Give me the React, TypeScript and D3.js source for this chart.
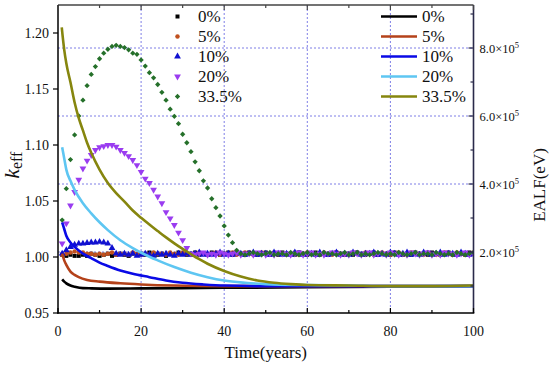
import React from 'react';
import * as d3 from 'd3';

// time axis for the scatter series (one point per year)
const years = d3.range(1, 101);

// k_eff scatter series
const sq0 = [
  1.002, 1.001, 1.002, 1.001, 1.001, 1.002, 1.001, 1.003, 1.002, 1.001,
  1.002, 1.003, 1.001, 1.002, 1.003, 1.002, 1.001, 1.003, 1.002, 1.003,
  1.002, 1.004, 1.003, 1.002, 1.003, 1.001, 1.003, 1.002, 1.004, 1.003,
  1.002, 1.003, 1.004, 1.002, 1.003, 1.002, 1.004, 1.003, 1.002, 1.003,
  1.004, 1.002, 1.003, 1.003, 1.002, 1.004, 1.003, 1.002, 1.003, 1.004,
  1.002, 1.003, 1.002, 1.004, 1.003, 1.003, 1.002, 1.004, 1.003, 1.002,
  1.003, 1.004, 1.002, 1.003, 1.002, 1.003, 1.004, 1.003, 1.002, 1.003,
  1.002, 1.004, 1.003, 1.002, 1.003, 1.004, 1.002, 1.003, 1.003, 1.002,
  1.004, 1.003, 1.002, 1.003, 1.002, 1.004, 1.003, 1.003, 1.002, 1.004,
  1.003, 1.002, 1.003, 1.004, 1.002, 1.003, 1.003, 1.002, 1.004, 1.003,
];
const sq5 = [
  1.002, 1.003, 1.004, 1.005, 1.004, 1.004, 1.003, 1.003, 1.002, 1.003,
  1.002, 1.003, 1.004, 1.002, 1.003, 1.003, 1.002, 1.004, 1.003, 1.002,
  1.003, 1.002, 1.004, 1.003, 1.003, 1.002, 1.004, 1.003, 1.002, 1.004,
  1.003, 1.002, 1.003, 1.004, 1.003, 1.002, 1.003, 1.004, 1.002, 1.003,
  1.003, 1.004, 1.002, 1.003, 1.004, 1.003, 1.002, 1.003, 1.004, 1.003,
  1.002, 1.004, 1.003, 1.003, 1.002, 1.003, 1.004, 1.002, 1.003, 1.004,
  1.003, 1.002, 1.003, 1.004, 1.003, 1.002, 1.004, 1.003, 1.002, 1.003,
  1.004, 1.003, 1.002, 1.004, 1.003, 1.002, 1.003, 1.004, 1.003, 1.002,
  1.003, 1.004, 1.003, 1.002, 1.004, 1.003, 1.003, 1.002, 1.004, 1.003,
  1.002, 1.003, 1.004, 1.003, 1.002, 1.004, 1.003, 1.002, 1.003, 1.004,
];
const sq10 = [
  1.003, 1.006, 1.009, 1.011, 1.012, 1.012, 1.0125, 1.013, 1.013, 1.0135,
  1.013, 1.012, 1.008, 1.003, 1.002, 1.003, 1.002, 1.003, 1.001, 1.002,
  1.003, 1.002, 1.001, 1.003, 1.002, 1.003, 1.002, 1.001, 1.003, 1.002,
  1.003, 1.002, 1.003, 1.004, 1.002, 1.003, 1.002, 1.003, 1.004, 1.002,
  1.003, 1.002, 1.004, 1.003, 1.002, 1.003, 1.004, 1.002, 1.003, 1.003,
  1.002, 1.004, 1.003, 1.002, 1.003, 1.002, 1.004, 1.003, 1.002, 1.003,
  1.003, 1.002, 1.004, 1.003, 1.002, 1.003, 1.004, 1.002, 1.003, 1.002,
  1.004, 1.003, 1.002, 1.003, 1.003, 1.004, 1.002, 1.003, 1.002, 1.004,
  1.003, 1.002, 1.003, 1.004, 1.002, 1.003, 1.002, 1.004, 1.003, 1.002,
  1.003, 1.004, 1.002, 1.003, 1.003, 1.002, 1.004, 1.003, 1.002, 1.003,
];
const sq20 = [
  1.012, 1.030, 1.046, 1.058, 1.069, 1.079, 1.086, 1.091, 1.0955, 1.098,
  1.099, 1.100, 1.100, 1.0985, 1.0955, 1.093, 1.090, 1.0866, 1.082, 1.076,
  1.070, 1.066, 1.060, 1.054, 1.048, 1.040, 1.0345, 1.0286, 1.0217, 1.015,
  1.008, 1.003, 1.002, 1.003, 1.004, 1.002, 1.003, 1.002, 1.004, 1.003,
  1.002, 1.003, 1.004, 1.002, 1.003, 1.003, 1.002, 1.004, 1.003, 1.002,
  1.003, 1.002, 1.004, 1.003, 1.003, 1.002, 1.003, 1.004, 1.002, 1.003,
  1.004, 1.002, 1.003, 1.002, 1.003, 1.004, 1.003, 1.002, 1.003, 1.002,
  1.004, 1.003, 1.002, 1.003, 1.004, 1.002, 1.003, 1.003, 1.002, 1.004,
  1.003, 1.002, 1.003, 1.002, 1.004, 1.003, 1.002, 1.003, 1.004, 1.002,
  1.003, 1.002, 1.004, 1.003, 1.003, 1.002, 1.003, 1.004, 1.002, 1.003,
];
const sq335 = [
  1.033, 1.061, 1.087, 1.109, 1.126, 1.140, 1.153, 1.163, 1.170, 1.177,
  1.182, 1.1855, 1.188, 1.189, 1.188, 1.187, 1.185, 1.182, 1.181, 1.176,
  1.1705, 1.1646, 1.160, 1.154, 1.147, 1.140, 1.132, 1.1256, 1.119, 1.1096,
  1.102, 1.094, 1.085, 1.077, 1.068, 1.0616, 1.052, 1.044, 1.0366, 1.0277,
  1.0196, 1.0128, 1.006, 1.003, 1.002, 1.003, 1.004, 1.003, 1.002, 1.003,
  1.004, 1.002, 1.003, 1.003, 1.002, 1.004, 1.003, 1.002, 1.003, 1.004,
  1.002, 1.003, 1.002, 1.004, 1.003, 1.003, 1.002, 1.003, 1.004, 1.002,
  1.003, 1.004, 1.002, 1.003, 1.002, 1.003, 1.004, 1.003, 1.002, 1.003,
  1.002, 1.004, 1.003, 1.002, 1.003, 1.004, 1.002, 1.003, 1.003, 1.002,
  1.004, 1.003, 1.002, 1.003, 1.002, 1.004, 1.003, 1.002, 1.003, 1.004,
];

// line series: [time, value]
const ln0: [number, number][] = [
  [1, 0.980], [1.5, 0.978], [2, 0.9765], [3, 0.9745], [4, 0.9735], [6, 0.9722],
  [8, 0.972], [12, 0.9718], [20, 0.972], [40, 0.9725], [60, 0.973], [80, 0.9735], [100, 0.974],
];
const ln5: [number, number][] = [
  [1, 1.003], [1.5, 0.997], [2, 0.993], [3, 0.987], [4, 0.984], [5, 0.982], [7, 0.9795],
  [10, 0.978], [15, 0.9765], [20, 0.9755], [28, 0.9745], [40, 0.974], [60, 0.974], [80, 0.974], [100, 0.974],
];
const ln10: [number, number][] = [
  [1, 1.031], [1.5, 1.025], [2, 1.019], [3, 1.013], [4, 1.009], [6, 1.003], [8, 0.999],
  [10, 0.995], [12, 0.992], [15, 0.988], [18, 0.985], [22, 0.982], [26, 0.979], [30, 0.977],
  [35, 0.9755], [40, 0.9745], [50, 0.974], [60, 0.974], [80, 0.974], [100, 0.974],
];
const ln20: [number, number][] = [
  [1, 1.098], [1.5, 1.088], [2, 1.078], [3, 1.068], [4, 1.060], [6, 1.048], [8, 1.039],
  [10, 1.031], [12, 1.024], [15, 1.015], [18, 1.008], [21, 1.002], [24, 0.997], [28, 0.991],
  [32, 0.986], [36, 0.982], [40, 0.979], [45, 0.977], [50, 0.9758], [60, 0.975], [70, 0.9745],
  [80, 0.974], [100, 0.974],
];
const ln335: [number, number][] = [
  [0.9, 1.205], [1.5, 1.185], [2, 1.173], [3, 1.156], [4, 1.138], [5, 1.124], [6, 1.113],
  [7, 1.102], [8, 1.093], [10, 1.078], [12, 1.066], [14, 1.057], [16, 1.0495], [18, 1.0415],
  [20, 1.035], [22, 1.029], [24, 1.0232], [26, 1.0175], [28, 1.0122], [30, 1.0072], [32, 1.0025],
  [34, 0.998], [36, 0.994], [40, 0.9875], [44, 0.9825], [48, 0.979], [52, 0.977], [56, 0.9758],
  [60, 0.975], [70, 0.9745], [80, 0.974], [90, 0.974], [100, 0.9745],
];

const labels = ['0%', '5%', '10%', '20%', '33.5%'];
const xTicks = [0, 20, 40, 60, 80, 100];
const xMinor = [10, 30, 50, 70, 90];
const yTicks = [0.95, 1.0, 1.05, 1.1, 1.15, 1.2];
const rTicks = [2e5, 4e5, 6e5, 8e5];
const rMinor = [1e5, 3e5, 5e5, 7e5, 9e5];

const scatterColors = ['#000000', '#c0501e', '#1010d0', '#9a3cf0', '#25702a'];
const lineColors = ['#000000', '#b4421a', '#0a0ae6', '#5ec6f2', '#86860e'];

const W = 550;
const H = 365;
const L = 58;
const R = 473.5;
const T = 5;
const B = 313;
const FONT = "'Times New Roman', 'Liberation Serif', 'Nimbus Roman', 'DejaVu Serif', serif";

export default function App() {
  const x = d3.scaleLinear().domain([0, 100]).range([L, R]);
  const y = d3.scaleLinear().domain([0.95, 1.225]).range([B, T]);
  const yR = d3.scaleLinear().domain([20600, 926500]).range([B, T]);

  const line = d3.line<[number, number]>()
    .x(d => x(d[0]))
    .y(d => y(d[1]))
    .curve(d3.curveMonotoneX);

  const scatters = [sq0, sq5, sq10, sq20, sq335];
  const lines = [ln0, ln5, ln10, ln20, ln335];

  const sqPath = d3.symbol().type(d3.symbolSquare).size(16)()!;
  const circPath = d3.symbol().type(d3.symbolCircle).size(16)()!;
  const triPath = d3.symbol().type(d3.symbolTriangle).size(20)()!;
  const diaPath = d3.symbol().type(d3.symbolSquare).size(14)()!;

  const marker = (i: number, cx: number, cy: number, key: string | number) => {
    const c = scatterColors[i];
    if (i === 0) return <path key={key} d={sqPath} transform={`translate(${cx},${cy})`} fill={c} />;
    if (i === 1) return <path key={key} d={circPath} transform={`translate(${cx},${cy})`} fill={c} />;
    if (i === 2) return <path key={key} d={triPath} transform={`translate(${cx},${cy})`} fill={c} />;
    if (i === 3) return <path key={key} d={triPath} transform={`translate(${cx},${cy}) rotate(180)`} fill={c} />;
    return <path key={key} d={diaPath} transform={`translate(${cx},${cy}) rotate(45)`} fill={c} />;
  };

  const grid = '#7f7fe6';
  const legendRows = labels.map((_, i) => 16.5 + i * 20);
  const txt = { fontFamily: FONT };

  return (
    <svg width={W} height={H} style={{ position: 'absolute', left: 0, top: 0, background: '#fff', fontFamily: FONT }}>
      <defs>
        <clipPath id="plot">
          <rect x={L} y={T} width={R - L} height={B - T} />
        </clipPath>
      </defs>

      {/* grid lines */}
      {[20, 40, 60, 80].map(v => (
        <line key={'gx' + v} x1={x(v)} x2={x(v)} y1={T} y2={B} stroke={grid} strokeWidth={1} strokeDasharray="2,2" />
      ))}
      {rTicks.map(v => (
        <line key={'gy' + v} x1={L} x2={R} y1={yR(v)} y2={yR(v)} stroke={grid} strokeWidth={1} strokeDasharray="2,2" />
      ))}

      <g clipPath="url(#plot)">
        {scatters.map((s, i) => (
          <g key={'s' + i}>
            {s.map((v, j) => marker(i, x(years[j]), y(v), j))}
          </g>
        ))}
        {lines.map((l, i) => (
          <path key={'l' + i} d={line(l)!} fill="none" stroke={lineColors[i]} strokeWidth={2.6} />
        ))}
      </g>

      {/* frame */}
      <line x1={L} x2={R} y1={T} y2={T} stroke="#444" strokeWidth={1.5} />
      <line x1={R} x2={R} y1={T} y2={B} stroke="#2a2a4a" strokeWidth={1.6} />
      <line x1={L} x2={L} y1={T} y2={B + 0.75} stroke="#000" strokeWidth={1.5} />
      <line x1={L - 0.75} x2={R + 0.8} y1={B} y2={B} stroke="#000" strokeWidth={1.5} />

      {/* bottom & top ticks */}
      {xTicks.map(v => (
        <g key={'xt' + v}>
          <line x1={x(v)} x2={x(v)} y1={B} y2={B - 5} stroke="#000" strokeWidth={1.2} />
          <line x1={x(v)} x2={x(v)} y1={T} y2={T + 5} stroke="#444" strokeWidth={1.2} />
          <text style={txt} x={x(v)} y={336} fontSize={14} textAnchor="middle" fill="#111">{v}</text>
        </g>
      ))}
      {xMinor.map(v => (
        <g key={'xm' + v}>
          <line x1={x(v)} x2={x(v)} y1={B} y2={B - 3} stroke="#000" strokeWidth={1.2} />
          <line x1={x(v)} x2={x(v)} y1={T} y2={T + 3} stroke="#444" strokeWidth={1.2} />
        </g>
      ))}

      {/* left ticks */}
      {yTicks.map(v => (
        <g key={'yt' + v}>
          <line x1={L - 5} x2={L} y1={y(v)} y2={y(v)} stroke="#000" strokeWidth={1.2} />
          <text style={txt} x={L - 9} y={y(v) + 4.5} fontSize={14} textAnchor="end" fill="#111">{v.toFixed(2)}</text>
        </g>
      ))}

      {/* right ticks */}
      {rTicks.map(v => (
        <g key={'rt' + v}>
          <line x1={R - 5} x2={R} y1={yR(v)} y2={yR(v)} stroke="#2a2a4a" strokeWidth={1.2} />
          <text style={txt} x={R + 6} y={yR(v) + 4.5} fontSize={12.5} fill="#111">
            {(v / 1e5).toFixed(1)}×10<tspan dy={-5} fontSize={8.5}>5</tspan>
          </text>
        </g>
      ))}
      {rMinor.map(v => (
        <line key={'rm' + v} x1={R - 3} x2={R} y1={yR(v)} y2={yR(v)} stroke="#2a2a4a" strokeWidth={1.2} />
      ))}

      {/* axis titles */}
      <text style={txt} x={(L + R) / 2} y={358} fontSize={17} textAnchor="middle" fill="#111">Time(years)</text>
      <text style={txt} transform="translate(19,165) rotate(-90)" textAnchor="middle" fill="#111">
        <tspan fontSize={21} fontStyle="italic">k</tspan>
        <tspan fontSize={16} dy={3}>eff</tspan>
      </text>
      <text style={txt} transform="translate(545,185) rotate(-90)" fontSize={17} textAnchor="middle" fill="#111">EALF(eV)</text>

      {/* scatter legend */}
      {labels.map((lab, i) => (
        <g key={'ls' + i}>
          {marker(i, 177.5, legendRows[i], 'm' + i)}
          <text style={txt} x={198} y={legendRows[i] + 5.5} fontSize={17} fill="#111">{lab}</text>
        </g>
      ))}

      {/* line legend */}
      {labels.map((lab, i) => (
        <g key={'ll' + i}>
          <line x1={381} x2={417} y1={legendRows[i]} y2={legendRows[i]} stroke={lineColors[i]} strokeWidth={2.6} />
          <text style={txt} x={422} y={legendRows[i] + 5.5} fontSize={17} fill="#111">{lab}</text>
        </g>
      ))}
    </svg>
  );
}
